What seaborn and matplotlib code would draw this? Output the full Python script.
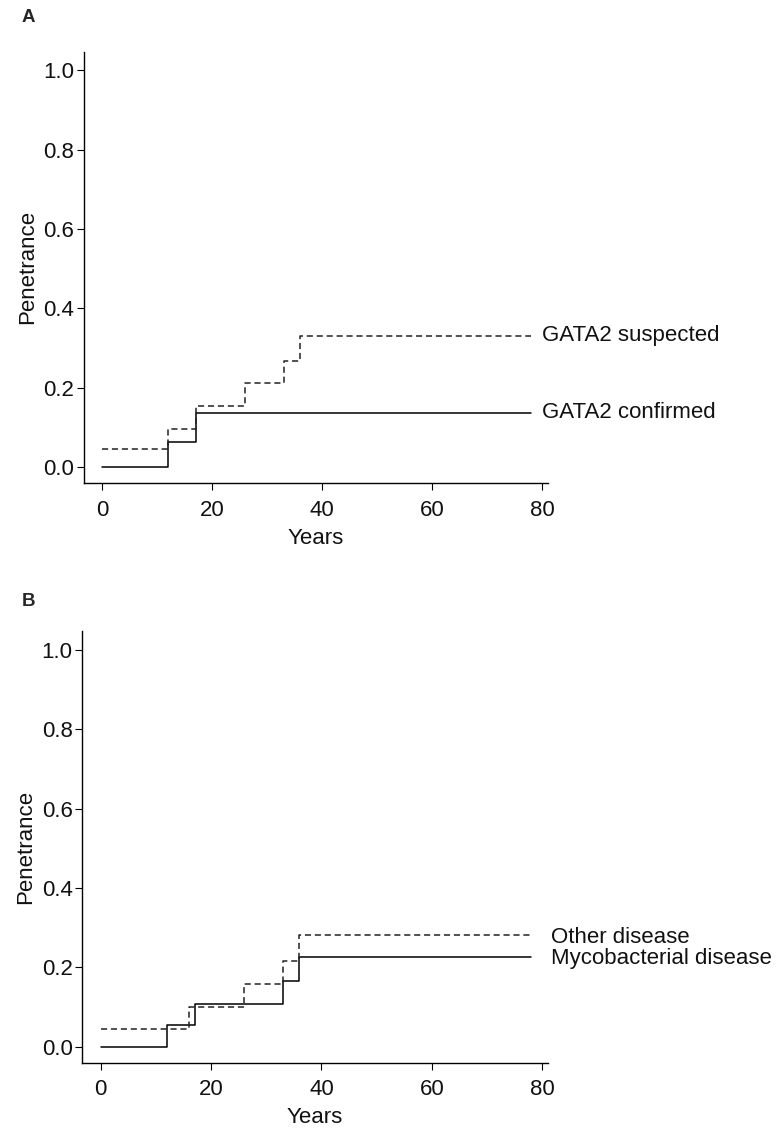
import matplotlib
matplotlib.use("Agg")
import matplotlib.pyplot as plt
import seaborn as sns
import pandas as pd

sns.set_theme(style="white")
plt.rcParams['font.family'] = ['Liberation Sans', 'DejaVu Sans']

# Panel A data
a_conf_years = [0, 12, 17, 78]
a_conf_pen = [0.0, 0.0625, 0.137, 0.137]
a_susp_years = [0, 12, 17, 26, 33, 36, 78]
a_susp_pen = [0.045, 0.097, 0.155, 0.212, 0.268, 0.331, 0.331]

# Panel B data
b_myco_years = [0, 12, 17, 33, 36, 78]
b_myco_pen = [0.0, 0.054, 0.108, 0.165, 0.226, 0.226]
b_other_years = [0, 16, 26, 33, 36, 78]
b_other_pen = [0.044, 0.101, 0.158, 0.217, 0.282, 0.282]

y_ticks = [0.0, 0.2, 0.4, 0.6, 0.8, 1.0]
x_ticks = [0, 20, 40, 60, 80]

fig = plt.figure(figsize=(7.78, 11.35), dpi=100)
axA = fig.add_axes([0.108, 0.5745, 0.596, 0.380])
axB = fig.add_axes([0.106, 0.0637, 0.598, 0.380])

FS = 16
dash = (4.0, 2.5)

def style(ax):
    ax.set_xlim(-3.3, 81)
    ax.set_ylim(-0.04, 1.047)
    ax.set_xticks(x_ticks)
    ax.set_yticks(y_ticks)
    ax.set_yticklabels([f"{v:.1f}" for v in y_ticks])
    for s in ["top", "right"]:
        ax.spines[s].set_visible(False)
    for s in ["left", "bottom"]:
        ax.spines[s].set_color("black")
        ax.spines[s].set_linewidth(1.0)
    ax.tick_params(axis="both", direction="out", length=5, width=0.8, color="black",
                   labelsize=FS, labelcolor="#111111", bottom=True, left=True)
    ax.tick_params(axis="x", pad=7)
    ax.tick_params(axis="y", pad=2)
    ax.set_xlabel("Years", fontsize=FS, color="#111111", labelpad=5)
    ax.set_ylabel("Penetrance", fontsize=FS, color="#111111", labelpad=4)
    ax.grid(False)

def draw(ax, xs, ys, dashed):
    df = pd.DataFrame({"Years": xs, "Penetrance": ys})
    sns.lineplot(data=df, x="Years", y="Penetrance", ax=ax, estimator=None,
                 drawstyle="steps-post", color="black" if not dashed else "#222222",
                 linewidth=1.1, dashes=False,
                 linestyle=(0, dash) if dashed else "-")

draw(axA, a_conf_years, a_conf_pen, False)
draw(axA, a_susp_years, a_susp_pen, True)
draw(axB, b_myco_years, b_myco_pen, False)
draw(axB, b_other_years, b_other_pen, True)
style(axA)
style(axB)

axA.text(80, a_susp_pen[-1], "GATA2 suspected", fontsize=FS, va="center", ha="left", color="#111111", clip_on=False)
axA.text(80, a_conf_pen[-1], "GATA2 confirmed", fontsize=FS, va="center", ha="left", color="#111111", clip_on=False)
axB.text(81.6, b_other_pen[-1] - 0.007, "Other disease", fontsize=FS, va="center", ha="left", color="#111111", clip_on=False)
axB.text(81.6, b_myco_pen[-1] - 0.003, "Mycobacterial disease", fontsize=FS, va="center", ha="left", color="#111111", clip_on=False)

fig.text(22 / 778, 1 - 18 / 1135, "A", fontsize=13.5, fontweight="bold", va="center", ha="left")
fig.text(22 / 778, 1 - 601 / 1135, "B", fontsize=13.5, fontweight="bold", va="center", ha="left")

fig.savefig("out.png", dpi=100, facecolor="white")
